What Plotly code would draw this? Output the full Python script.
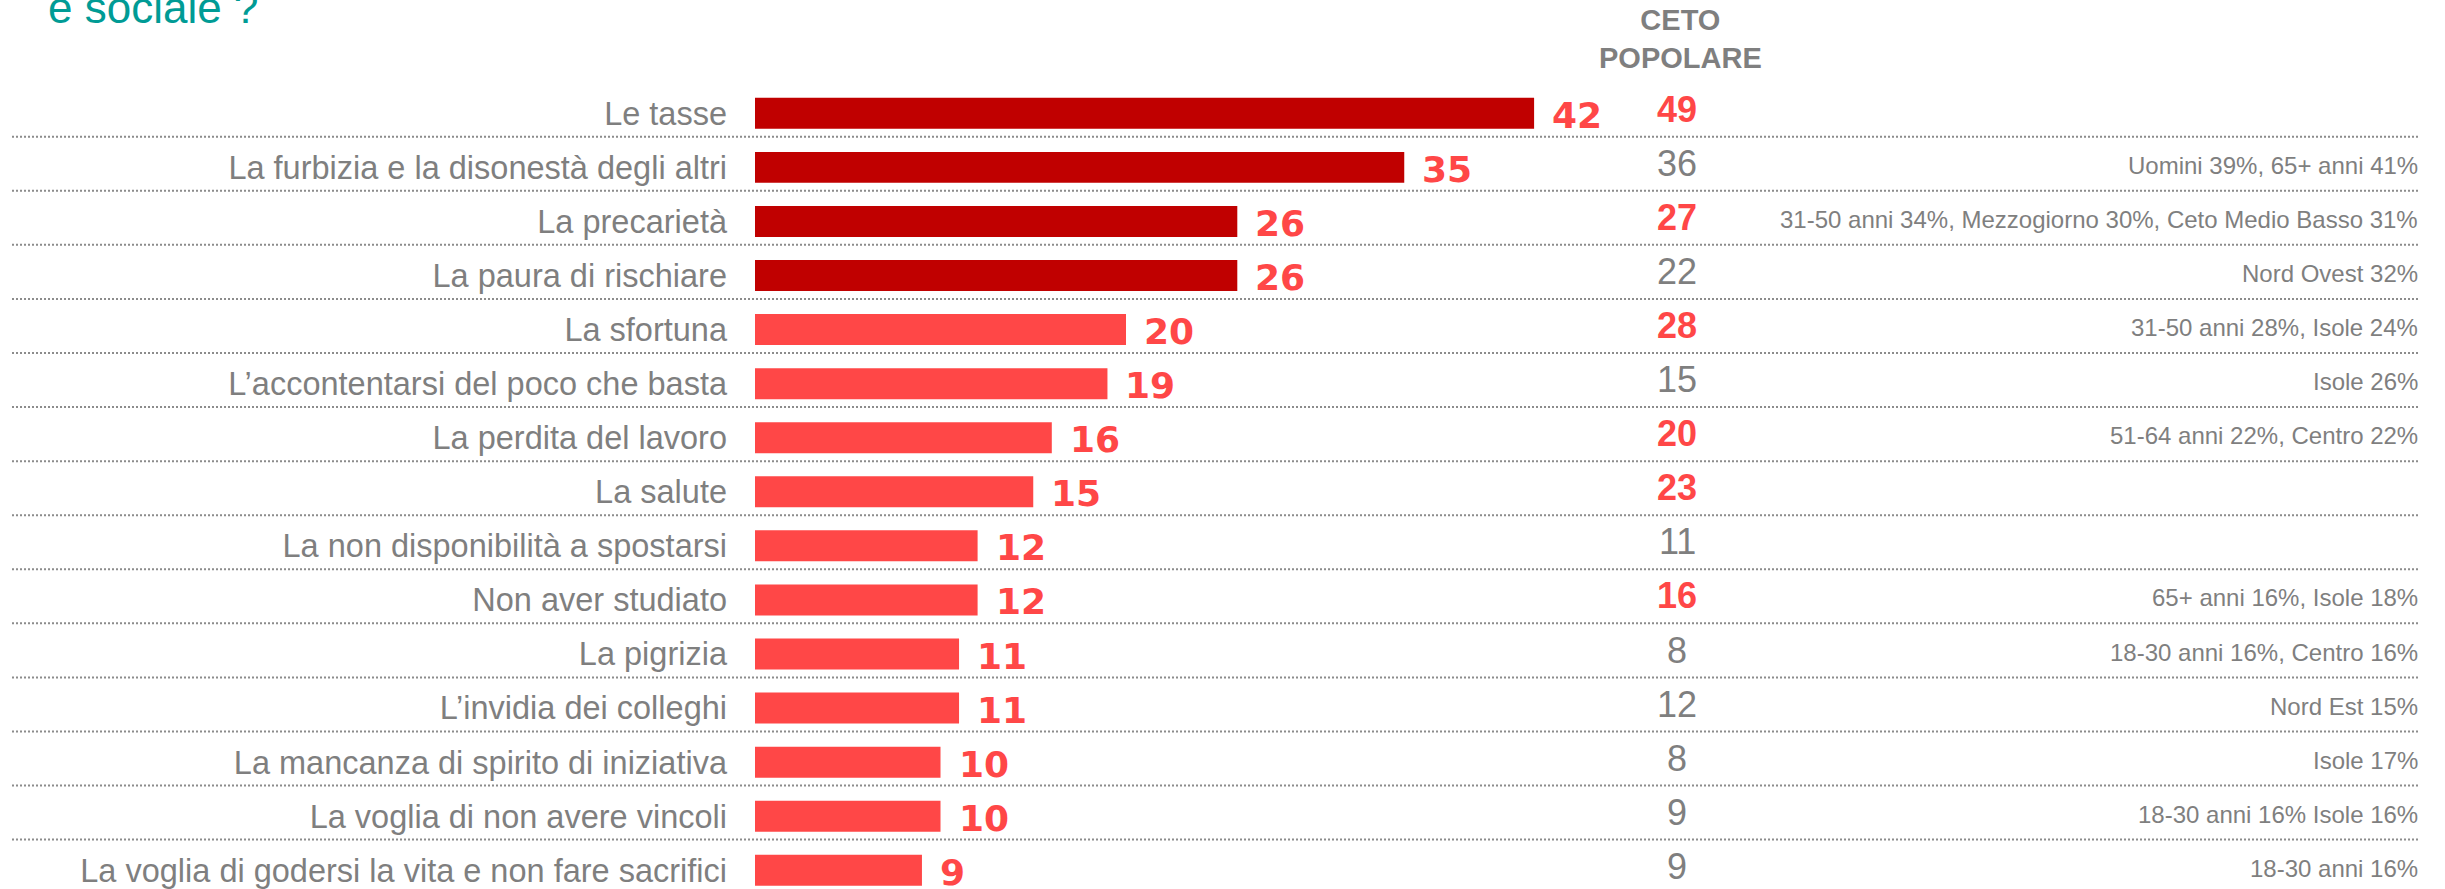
import plotly.graph_objects as go

# ---------------- data ----------------
categories = [
    "Le tasse",
    "La furbizia e la disonestà degli altri",
    "La precarietà",
    "La paura di rischiare",
    "La sfortuna",
    "L’accontentarsi del poco che basta",
    "La perdita del lavoro",
    "La salute",
    "La non disponibilità a spostarsi",
    "Non aver studiato",
    "La pigrizia",
    "L’invidia dei colleghi",
    "La mancanza di spirito di iniziativa",
    "La voglia di non avere vincoli",
    "La voglia di godersi la vita e non fare sacrifici",
]
values = [42, 35, 26, 26, 20, 19, 16, 15, 12, 12, 11, 11, 10, 10, 9]
top_group = [True, True, True, True, False, False, False, False, False, False, False, False, False, False, False]
ceto_popolare = [49, 36, 27, 22, 28, 15, 20, 23, 11, 16, 8, 12, 8, 9, 9]
ceto_highlight = [True, False, True, False, True, False, True, True, False, True, False, False, False, False, False]
notes = [
    "",
    "Uomini 39%, 65+ anni 41%",
    "31-50 anni 34%, Mezzogiorno 30%, Ceto Medio Basso 31%",
    "Nord Ovest 32%",
    "31-50 anni 28%, Isole 24%",
    "Isole 26%",
    "51-64 anni 22%, Centro 22%",
    "",
    "",
    "65+ anni 16%, Isole 18%",
    "18-30 anni 16%, Centro 16%",
    "Nord Est 15%",
    "Isole 17%",
    "18-30 anni 16% Isole 16%",
    "18-30 anni 16%",
]
column_header = "CETO<br>POPOLARE"
title_line = "e sociale ?"

# ---------------- style ----------------
W, H = 2445, 889
FONT = "Liberation Sans, Arial, sans-serif"
HEAVY = "DejaVu Sans, Liberation Sans, sans-serif"
DARK = "#C00000"
LIGHT = "#FF4747"
GRAY = "#7F7F7F"
TEAL = "#009B95"

PLOT_L, PLOT_R = 755, 2420
PLOT_T = 86
plot_w = PLOT_R - PLOT_L
plot_h = H - PLOT_T
px_per_unit = 18.55
x_max = plot_w / px_per_unit
row_px = 54.07
y_top = -(113.3 - PLOT_T) / row_px
y_bottom = y_top + plot_h / row_px


def px_to_paper_x(px):
    return (px - PLOT_L) / plot_w


def px_to_paper_y(py):
    return (H - py) / plot_h


fig = go.Figure()
fig.add_trace(go.Bar(
    x=values,
    y=categories,
    orientation="h",
    width=0.573,
    marker=dict(color=[DARK if t else LIGHT for t in top_group], line=dict(width=0)),
    hoverinfo="skip",
))

annotations = []
# value labels at bar ends
for cat, v in zip(categories, values):
    annotations.append(dict(
        x=v, y=cat, xref="x", yref="y", xanchor="left", yanchor="middle",
        xshift=16, yshift=-2, showarrow=False,
        text=f"<b>{v}</b>", font=dict(family=HEAVY, size=36, color=LIGHT),
    ))
# ceto popolare column
for cat, v, hl in zip(categories, ceto_popolare, ceto_highlight):
    annotations.append(dict(
        x=px_to_paper_x(1677), y=cat, xref="paper", yref="y",
        xanchor="center", yanchor="middle", yshift=4, showarrow=False,
        text=f"<b>{v}</b>" if hl else str(v),
        font=dict(family=FONT, size=36, color=LIGHT if hl else GRAY),
    ))
# notes column
for cat, n in zip(categories, notes):
    if n:
        annotations.append(dict(
            x=1.0, y=cat, xref="paper", yref="y",
            xanchor="right", yanchor="middle", yshift=2, showarrow=False,
            text=n, font=dict(family=FONT, size=24, color=GRAY),
        ))
# column header
annotations.append(dict(
    x=px_to_paper_x(1680), y=px_to_paper_y(2), xref="paper", yref="paper",
    xanchor="center", yanchor="top", showarrow=False,
    text=f"<b>{column_header}</b>", font=dict(family=FONT, size=29, color=GRAY),
))
# title fragment
annotations.append(dict(
    x=px_to_paper_x(46), y=px_to_paper_y(34), xref="paper", yref="paper",
    xanchor="left", yanchor="bottom", showarrow=False,
    text=title_line, font=dict(family=FONT, size=44, color=TEAL),
))

# dotted separators
shapes = []
for i in range(len(categories) - 1):
    shapes.append(dict(
        type="line", xref="paper", yref="y",
        x0=px_to_paper_x(12), x1=px_to_paper_x(2420),
        y0=i + 0.433, y1=i + 0.433,
        line=dict(color="#8C8C8C", width=2, dash="2px,2px"),
        layer="below",
    ))

fig.update_layout(
    width=W, height=H,
    margin=dict(l=PLOT_L, r=W - PLOT_R, t=PLOT_T, b=0, pad=0),
    paper_bgcolor="white", plot_bgcolor="white",
    showlegend=False,
    xaxis=dict(range=[0, x_max], visible=False, showgrid=False, zeroline=False, fixedrange=True),
    yaxis=dict(
        range=[y_bottom, y_top], showgrid=False, zeroline=False, showline=False,
        ticks="", ticklabelstandoff=27,
        tickfont=dict(family=FONT, size=32.5, color=GRAY), fixedrange=True,
    ),
    annotations=annotations,
    shapes=shapes,
)

fig.write_html(
    "out.html",
    config={"displayModeBar": False},
    post_script="document.body.style.margin='0px';document.body.style.overflow='hidden';",
)
